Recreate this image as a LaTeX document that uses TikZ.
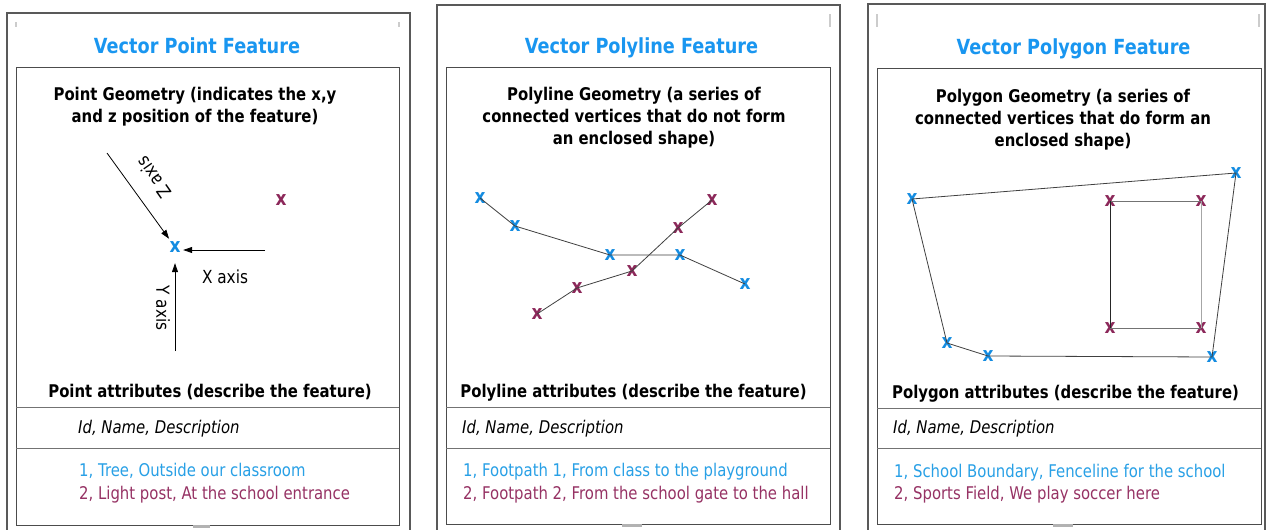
\documentclass[tikz,border=0pt]{standalone}
\usepackage{fontspec}
\setmainfont{DejaVu Sans}[FakeStretch=0.85]
\usetikzlibrary{arrows.meta}
\definecolor{tblue}{RGB}{25,150,240}
\definecolor{dblue}{RGB}{40,160,230}
\definecolor{mblue}{RGB}{20,140,225}
\definecolor{dmar}{RGB}{150,50,100}
\definecolor{mmar}{RGB}{140,40,90}
\begin{document}
\begin{tikzpicture}[x=1pt,y=-1pt,
  ttl/.style={font=\fontsize{20.8}{24}\selectfont\bfseries, text=tblue, anchor=base, inner sep=0},
  hd/.style={font=\fontsize{17.5}{21}\selectfont\bfseries, anchor=base, inner sep=0},
  idl/.style={font=\fontsize{17.5}{21}\selectfont\itshape, anchor=base west, inner sep=0},
  db/.style={font=\fontsize{17.5}{21}\selectfont, text=dblue, anchor=base west, inner sep=0},
  dm/.style={font=\fontsize{17.5}{21}\selectfont, text=dmar, anchor=base west, inner sep=0},
  mk/.style={font=\fontsize{20}{22}\selectfont\bfseries, inner sep=0},
  mb/.style={mk, text=mblue},
  mm/.style={mk, text=mmar},
  axl/.style={font=\fontsize{18}{21}\selectfont, inner sep=0},
  axarrow/.style={draw=black, line width=0.8pt, -{Triangle[length=9pt,width=6pt]}},
  conn/.style={draw=black!75, line width=0.8pt},
  outerb/.style={draw=black!65, line width=1.3pt},
  innerb/.style={draw=black!70, line width=1pt},
  sepl/.style={draw=black!55, line width=1pt},
  tickl/.style={draw=black!20, line width=1.5pt},
  barf/.style={fill=black!30}
]
\useasboundingbox (0,0) rectangle (1267,530);
\clip (0,0) rectangle (1267,530);
\fill[white] (0,0) rectangle (1267,530);

% ---------------- Panel 1 ----------------
\draw[outerb] (7,13) rectangle (410,545);
\draw[innerb] (16,67) rectangle (399,525);
\draw[sepl] (16,407) -- (399,407);
\draw[sepl] (16,448) -- (399,448);
\draw[tickl] (16,22) -- (16,27);
\draw[tickl] (399,22) -- (399,27);
\fill[barf] (193,525) rectangle (210,528);

\node[ttl] (t1) at (197,53) {Vector Point Feature};
\node[hd] (g1a) at (195,100) {Point Geometry (indicates the x,y};
\node[hd] (g1b) at (195,122) {and z position of the feature)};
\node[hd] (a1) at (210,397) {Point attributes (describe the feature)};
\node[idl] (i1) at (78,433) {Id, Name, Description};
\node[db] (d1a) at (79,476) {1, Tree, Outside our classroom};
\node[dm] (d1b) at (79,499) {2, Light post, At the school entrance};

\node[mb, minimum width=16pt, minimum height=16pt] (pA) at (175,247) {x};
\node[mm] (pB) at (281,200) {x};
\coordinate (zs) at (107,153);
\coordinate (xs) at (265,250);
\coordinate (ys) at (175,351);
\draw[axarrow] (zs) -- (pA);
\draw[axarrow] (xs) -- (pA.east |- xs);
\draw[axarrow, shorten >=8pt] (ys) -- (pA.south);
\node[axl, rotate=125] (zl) at (154,178) {Z axis};
\node[axl, anchor=base] (xl) at (225,283) {X axis};
\node[axl, rotate=-90] (yl) at (163,308) {Y axis};

% ---------------- Panel 2 ----------------
\draw[outerb] (437,5) rectangle (840,545);
\draw[innerb] (446,67) rectangle (830,524);
\draw[sepl] (446,407) -- (830,407);
\draw[sepl] (446,448) -- (830,448);
\draw[tickl] (830,14) -- (830,27);
\fill[barf] (622,524) rectangle (642,527);

\node[ttl] (t2) at (641.5,53) {Vector Polyline Feature};
\node[hd] (g2a) at (634,100) {Polyline Geometry (a series of};
\node[hd] (g2b) at (634,122) {connected vertices that do not form};
\node[hd] (g2c) at (634,144) {an enclosed shape)};
\node[hd] (a2) at (633.5,397) {Polyline attributes (describe the feature)};
\node[idl] (i2) at (462,433) {Id, Name, Description};
\node[db] (d2a) at (463,476) {1, Footpath 1, From class to the playground};
\node[dm] (d2b) at (463,499) {2, Footpath 2, From the school gate to the hall};

\node[mb] (b1) at (480,198) {x};
\node[mb] (b2) at (515,226) {x};
\node[mb] (b3) at (610,255) {x};
\node[mb] (b4) at (680,255) {x};
\node[mb] (b5) at (745,284) {x};
\node[mm] (m1) at (537,314) {x};
\node[mm] (m2) at (577,288) {x};
\node[mm] (m3) at (632,271) {x};
\node[mm] (m4) at (678,228) {x};
\node[mm] (m5) at (712,200) {x};
\draw[conn] (b1.center) -- (b2.center) -- (b3.center) -- (b4.center) -- (b5.center);
\draw[conn] (m1.center) -- (m2.center) -- (m3.center) -- (m4.center) -- (m5.center);

% ---------------- Panel 3 ----------------
\draw[outerb] (868,4) rectangle (1265,545);
\draw[innerb] (877,68) rectangle (1261,524);
\draw[sepl] (877,408) -- (1261,408);
\draw[sepl] (877,448) -- (1261,448);
\draw[tickl] (877,14) -- (877,27);
\draw[tickl] (1259,14) -- (1259,27);
\fill[barf] (1053,524) rectangle (1073,527);

\node[ttl] (t3) at (1073.5,54) {Vector Polygon Feature};
\node[hd] (g3a) at (1063,102) {Polygon Geometry (a series of};
\node[hd] (g3b) at (1063,124) {connected vertices that do form an};
\node[hd] (g3c) at (1063,146) {enclosed shape)};
\node[hd] (a3) at (1065.5,398) {Polygon attributes (describe the feature)};
\node[idl] (i3) at (893,433) {Id, Name, Description};
\node[db] (d3a) at (894,477) {1, School Boundary, Fenceline for the school};
\node[dm] (d3b) at (894,499) {2, Sports Field, We play soccer here};

\node[mb] (c1) at (912,199) {x};
\node[mb] (c2) at (1236,173) {x};
\node[mb] (c3) at (1212,357) {x};
\node[mb] (c4) at (988,356) {x};
\node[mb] (c5) at (947,343) {x};
\node[mm] (r1) at (1110,201) {x};
\node[mm] (r2) at (1201,201) {x};
\node[mm] (r3) at (1201,328) {x};
\node[mm] (r4) at (1110,328) {x};
\draw[conn] (c1.center) -- (c2.center) -- (c3.center) -- (c4.center) -- (c5.center) -- (c1.center);
\draw[conn, draw=black!55] (r1.center) -- (r2.center);
\draw[conn, draw=black!35] (r2.center) -- (r3.center);
\draw[conn, draw=black!55] (r3.center) -- (r4.center);
\draw[conn, draw=black!85] (r4.center) -- (r1.center);
\end{tikzpicture}
\end{document}
